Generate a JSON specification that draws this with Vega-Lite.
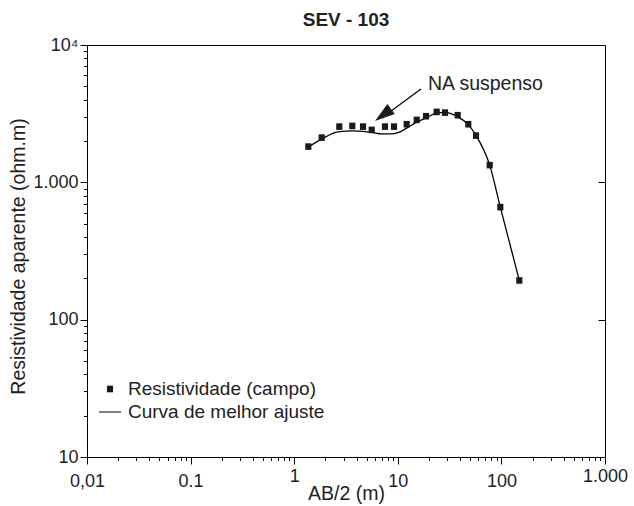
{
  "$schema": "https://vega.github.io/schema/vega-lite/v6.json",
  "autosize": {"type": "none"},
  "padding": {"left": 87, "top": 45, "right": 29, "bottom": 49},
  "width": 518,
  "height": 412,
  "background": "white",
  "title": {"text": "SEV - 103", "font": "Liberation Sans", "fontSize": 19, "fontWeight": "bold", "color": "#222222", "offset": 6, "anchor": "middle"},
  "config": {
    "font": "Liberation Sans",
    "view": {"stroke": "black", "strokeWidth": 1},
    "axis": {"domainColor": "black", "tickColor": "black", "labelColor": "#222222", "titleColor": "#222222", "grid": false, "labelFontSize": 18, "titleFontSize": 19.5, "titleFontWeight": "normal", "labelFont": "Liberation Sans", "titleFont": "Liberation Sans"},
    "legend": {"orient": "none", "legendX": 12, "legendY": 333, "padding": 0, "labelFontSize": 19, "labelFont": "Liberation Sans", "labelColor": "#222222", "labelLimit": 0, "symbolSize": 484, "labelOffset": 7, "rowPadding": 2, "symbolStrokeWidth": 0}
  },
  "resolve": {"axis": {"y": "independent"}},
  "layer": [
    {
      "data": {"values": [
        {"ab2": 1.33, "rho": 1782}, {"ab2": 1.855, "rho": 2072}, {"ab2": 2.648, "rho": 2330},
        {"ab2": 3.694, "rho": 2368}, {"ab2": 4.616, "rho": 2349}, {"ab2": 5.636, "rho": 2310},
        {"ab2": 7.04, "rho": 2253}, {"ab2": 8.79, "rho": 2253}, {"ab2": 10.5, "rho": 2330},
        {"ab2": 12.27, "rho": 2490}, {"ab2": 15.32, "rho": 2754}, {"ab2": 18.72, "rho": 2945},
        {"ab2": 23.9, "rho": 3203}, {"ab2": 28.55, "rho": 3230}, {"ab2": 37.27, "rho": 3020},
        {"ab2": 47.6, "rho": 2641}, {"ab2": 56.86, "rho": 2200}, {"ab2": 77.1, "rho": 1334},
        {"ab2": 97.6, "rho": 660}, {"ab2": 148.9, "rho": 193}
      ]},
      "mark": {"type": "line", "interpolate": "monotone", "color": "black", "strokeWidth": 1.3},
      "encoding": {
        "x": {"field": "ab2", "type": "quantitative",
          "scale": {"type": "log", "domain": [0.01, 1000], "nice": false},
          "axis": {"title": "AB/2 (m)", "titleY": 42, "titleBaseline": "alphabetic",
            "values": [0.01,0.02,0.03,0.04,0.05,0.06,0.07,0.08,0.09,0.1,0.2,0.3,0.4,0.5,0.6,0.7,0.8,0.9,1,2,3,4,5,6,7,8,9,10,20,30,40,50,60,70,80,90,100,200,300,400,500,600,700,800,900,1000],
            "labelExpr": "datum.value == 0.01 ? ['', '0,01'] : datum.value == 0.1 ? ['', '0.1'] : datum.value == 1 ? '1' : datum.value == 10 ? ['', '10'] : datum.value == 100 ? ['', '100'] : datum.value == 1000 ? '1.000' : ''",
            "labelLineHeight": 5,
            "labelOverlap": false, "labelFlush": false, "labelBound": false, "labelPadding": 3,
            "tickSize": {"condition": {"test": "indexof([0.01,0.1,1,10,100,1000], datum.value) >= 0", "value": 7}, "value": 3.5}
          }},
        "y": {"field": "rho", "type": "quantitative",
          "scale": {"type": "log", "domain": [10, 10000], "nice": false},
          "axis": {"title": "Resistividade aparente (ohm.m)", "titleX": -69, "titleY": 211, "titleAlign": "center", "titleBaseline": "middle", "titleAngle": -90,
            "values": [10,20,30,40,50,60,70,80,90,100,200,300,400,500,600,700,800,900,1000,2000,3000,4000,5000,6000,7000,8000,9000,10000],
            "labelExpr": "datum.value == 10000 ? '10⁴' : datum.value == 1000 ? '1.000' : datum.value == 100 ? '100' : datum.value == 10 ? '10' : ''",
            "labelOverlap": false, "labelFlush": false, "labelBound": false, "labelPadding": 2,
            "tickSize": {"condition": {"test": "indexof([10,100,1000,10000], datum.value) >= 0", "value": 7}, "value": 3.5}
          }}
      }
    },
    {
      "data": {"values": [
        {"ab2": 1.368, "rho": 1821, "serie": "Resistividade (campo)"}, {"ab2": 1.843, "rho": 2117, "serie": "Resistividade (campo)"},
        {"ab2": 2.725, "rho": 2545, "serie": "Resistividade (campo)"}, {"ab2": 3.637, "rho": 2575, "serie": "Resistividade (campo)"},
        {"ab2": 4.616, "rho": 2545, "serie": "Resistividade (campo)"}, {"ab2": 5.598, "rho": 2409, "serie": "Resistividade (campo)"},
        {"ab2": 7.52, "rho": 2545, "serie": "Resistividade (campo)"}, {"ab2": 9.19, "rho": 2545, "serie": "Resistividade (campo)"},
        {"ab2": 12.18, "rho": 2650, "serie": "Resistividade (campo)"}, {"ab2": 15.22, "rho": 2848, "serie": "Resistividade (campo)"},
        {"ab2": 18.72, "rho": 3030, "serie": "Resistividade (campo)"}, {"ab2": 23.74, "rho": 3256, "serie": "Resistividade (campo)"},
        {"ab2": 28.55, "rho": 3218, "serie": "Resistividade (campo)"}, {"ab2": 37.86, "rho": 3081, "serie": "Resistividade (campo)"},
        {"ab2": 47.9, "rho": 2650, "serie": "Resistividade (campo)"}, {"ab2": 56.86, "rho": 2190, "serie": "Resistividade (campo)"},
        {"ab2": 77.1, "rho": 1334, "serie": "Resistividade (campo)"}, {"ab2": 97.6, "rho": 660, "serie": "Resistividade (campo)"},
        {"ab2": 148.9, "rho": 193, "serie": "Resistividade (campo)"}
      ]},
      "mark": {"type": "point", "filled": true, "color": "#1a1a1a", "opacity": 1, "size": 484, "strokeWidth": 0},
      "encoding": {
        "x": {"field": "ab2", "type": "quantitative", "scale": {"type": "log", "domain": [0.01, 1000], "nice": false}},
        "y": {"field": "rho", "type": "quantitative", "scale": {"type": "log", "domain": [10, 10000], "nice": false}, "axis": null},
        "shape": {"field": "serie", "type": "nominal",
          "scale": {"domain": ["Resistividade (campo)", "Curva de melhor ajuste"], "range": ["M-0.28,-0.3H0.28V0.3H-0.28Z", "M-1,-0.05H1V0.05H-1Z"]},
          "legend": {"title": null}}
      }
    },
    {
      "data": {"values": [{"ab2": 16.74, "rho": 4786, "ab2_end": 7.42, "rho_end": 3045}]},
      "mark": {"type": "rule", "color": "black", "strokeWidth": 1.2},
      "encoding": {
        "x": {"field": "ab2", "type": "quantitative", "scale": {"type": "log", "domain": [0.01, 1000], "nice": false}},
        "x2": {"field": "ab2_end"},
        "y": {"field": "rho", "type": "quantitative", "scale": {"type": "log", "domain": [10, 10000], "nice": false},
          "axis": {"orient": "right", "title": null, "values": [100, 1000], "labels": false, "domain": false, "tickSize": -7}},
        "y2": {"field": "rho_end"}
      }
    },
    {
      "data": {"values": [{"ab2": 7.2, "rho": 3090}]},
      "mark": {"type": "point", "filled": true, "color": "#1a1a1a", "opacity": 1, "shape": "M0,-1L0.62,1L-0.62,1Z", "size": 400, "angle": 233.6, "strokeWidth": 0},
      "encoding": {
        "x": {"field": "ab2", "type": "quantitative", "scale": {"type": "log", "domain": [0.01, 1000], "nice": false}},
        "y": {"field": "rho", "type": "quantitative", "scale": {"type": "log", "domain": [10, 10000], "nice": false}, "axis": null}
      }
    },
    {
      "data": {"values": [{"ab2": 19.56, "rho": 5204, "label": "NA suspenso"}]},
      "mark": {"type": "text", "align": "left", "baseline": "middle", "fontSize": 19.5, "font": "Liberation Sans", "color": "#222222"},
      "encoding": {
        "x": {"field": "ab2", "type": "quantitative", "scale": {"type": "log", "domain": [0.01, 1000], "nice": false}},
        "y": {"field": "rho", "type": "quantitative", "scale": {"type": "log", "domain": [10, 10000], "nice": false}, "axis": null},
        "text": {"field": "label"}
      }
    }
  ]
}
